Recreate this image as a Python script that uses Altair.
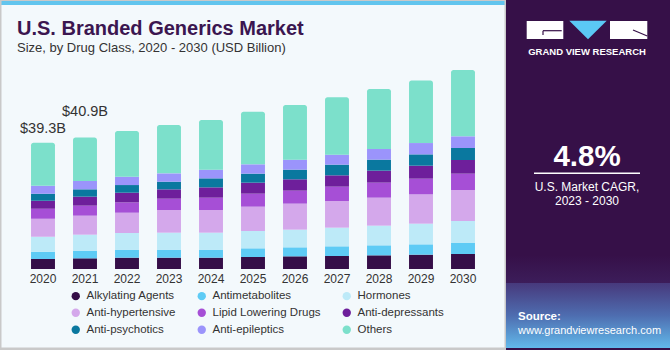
import altair as alt
import pandas as pd

# ---------------- data ----------------
years = [2020, 2021, 2022, 2023, 2024, 2025, 2026, 2027, 2028, 2029, 2030]
categories = ["Alkylating Agents", "Antimetabolites", "Hormones", "Anti-hypertensive",
              "Lipid Lowering Drugs", "Anti-depressants", "Anti-psychotics",
              "Anti-epileptics", "Others"]
colors = ["#350e48", "#5ecbf5", "#bdeaf8", "#d4a8eb", "#a64fd6", "#6e1f9b",
          "#0a789f", "#9b94fb", "#7ce0cb"]

alkylating = [3.11, 3.32, 3.52, 3.52, 3.52, 3.73, 3.94, 4.04, 4.25, 4.46, 4.67]
antimetabolites = [2.28, 2.38, 2.49, 2.49, 2.49, 2.70, 2.80, 3.01, 3.11, 3.21, 3.42]
hormones = [4.67, 4.98, 5.18, 5.29, 5.29, 5.39, 5.50, 5.81, 6.12, 6.43, 6.84]
antihypertensive = [5.60, 5.91, 6.32, 7.05, 7.05, 7.57, 8.09, 8.29, 8.71, 9.12, 9.64]
lipid = [3.11, 3.11, 3.21, 3.52, 3.83, 4.04, 4.04, 4.46, 4.67, 4.87, 5.08]
antidepressants = [2.49, 2.80, 3.01, 2.90, 3.21, 3.42, 3.52, 3.52, 3.73, 4.04, 4.25]
antipsychotics = [2.18, 2.28, 2.38, 2.38, 2.80, 2.80, 3.01, 3.32, 3.42, 3.52, 3.73]
antiepileptics = [2.49, 2.59, 2.59, 2.59, 2.70, 2.90, 3.11, 3.11, 3.32, 3.52, 3.63]
others = [13.37, 13.53, 14.20, 15.03, 15.45, 16.38, 17.00, 17.83, 18.66, 19.49, 20.63]

series = [alkylating, antimetabolites, hormones, antihypertensive, lipid,
          antidepressants, antipsychotics, antiepileptics, others]

label_years = [2020, 2021]
label_texts = ["$39.3B", "$40.9B"]

# ---------------- tables ----------------
rows = []
for i, (cat, vals) in enumerate(zip(categories, series)):
    for y, v in zip(years, vals):
        rows.append({"year": y, "category": cat, "value": v, "idx": i})
df = pd.DataFrame(rows)

totals = df.groupby("year")["value"].sum()
lab_df = pd.DataFrame({"year": label_years, "text": label_texts,
                       "total": [totals[y] for y in label_years]})

OX, OY = 22, 60
W, H = 462, 209
FONT = "Liberation Sans"

xenc = alt.X("year:O", title=None,
             scale=alt.Scale(paddingInner=0.43, paddingOuter=0.215),
             axis=alt.Axis(labelAngle=0, ticks=False, domain=False, grid=False,
                           labelPadding=4, labelFontSize=12, labelColor="#333333",
                           labelFont=FONT))
yscale = alt.Scale(domain=[0, 65])
cenc = alt.Color("category:N", scale=alt.Scale(domain=categories, range=colors),
                 legend=alt.Legend(title=None, orient="none", legendX=48, legendY=230,
                                   columns=3, direction="horizontal",
                                   symbolType="circle", symbolSize=70,
                                   symbolStrokeWidth=0, labelFontSize=11.5,
                                   labelFont=FONT, labelColor="#333333",
                                   columnPadding=20, rowPadding=4, labelOffset=5,
                                   labelLimit=250))

base = alt.Chart(df).transform_stack(
    stack="value", groupby=["year"], as_=["y0", "y1"],
    sort=[alt.SortField("idx", order="ascending")])

bars = base.transform_filter("datum.idx < 8").mark_bar().encode(
    x=xenc, y=alt.Y("y0:Q", scale=yscale, axis=None), y2="y1:Q", color=cenc)
bars_top = base.transform_filter("datum.idx == 8").mark_bar(
    cornerRadiusTopLeft=2.5, cornerRadiusTopRight=2.5).encode(
    x=xenc, y=alt.Y("y0:Q", scale=yscale, axis=None), y2="y1:Q", color=cenc)

lab1 = alt.Chart(lab_df).transform_filter("datum.year == 2020").mark_text(
    fontSize=14.5, font=FONT, color="#333333", baseline="alphabetic", dy=-10).encode(
    x=xenc, y=alt.Y("total:Q", scale=yscale, axis=None), text="text:N")
lab2 = alt.Chart(lab_df).transform_filter("datum.year == 2021").mark_text(
    fontSize=14.5, font=FONT, color="#333333", baseline="alphabetic", dy=-21).encode(
    x=xenc, y=alt.Y("total:Q", scale=yscale, axis=None), text="text:N")

one = pd.DataFrame({"a": [0]})


def rect(x1, x2, y1, y2, **kw):
    return alt.Chart(one).mark_rect(**kw).encode(
        x=alt.value(x1 - OX), x2=alt.value(x2 - OX),
        y=alt.value(y1 - OY), y2=alt.value(y2 - OY))


def rule(x1, y1, x2, y2, **kw):
    return alt.Chart(one).mark_rule(**kw).encode(
        x=alt.value(x1 - OX), x2=alt.value(x2 - OX),
        y=alt.value(y1 - OY), y2=alt.value(y2 - OY))


def text(s, x, y, **kw):
    return alt.Chart(one).mark_text(baseline="alphabetic", **kw).encode(
        x=alt.value(x - OX), y=alt.value(y - OY), text=alt.value(s))


deco = [
    rect(0, 506, 0, 1, color="#c9c9c9"),
    rect(0, 505, 1, 5, color="#62c5ee"),
    rect(0, 1.5, 1, 350, color="#c9c9c9"),
    rect(0, 506, 347.5, 350, color="#c9c9c9"),
    rect(504.5, 506, 0, 350, color="#c9c9c9"),
    rect(506, 670, 0, 350, color="#361048"),
    rect(506, 670, 255, 283, fill=alt.Gradient(
        gradient="linear", x1=0, x2=0, y1=0, y2=1,
        stops=[alt.GradientStop(color="#361048", offset=0),
               alt.GradientStop(color="#3c1d5a", offset=1)])),
    rect(506, 670, 283, 348, fill=alt.Gradient(
        gradient="linear", x1=0, x2=0, y1=0, y2=1,
        stops=[alt.GradientStop(color="#47397c", offset=0),
               alt.GradientStop(color="#4e6db0", offset=0.5),
               alt.GradientStop(color="#62b9ea", offset=1)])),
    # logo
    rect(526.7, 563.3, 21, 39, color="white"),
    rule(543, 30.7, 561.7, 30.7, color="#361048", strokeWidth=1.2),
    rule(543, 30.7, 543, 35, color="#361048", strokeWidth=1.2),
    alt.Chart(one).mark_point(shape="M -1 -0.5 L 1 -0.5 L 0 0.5 Z", filled=True,
                              opacity=1, color="#5bc8f5", size=1400).encode(
        x=alt.value(588 - OX), y=alt.value(30 - OY)),
    rect(610, 647.3, 21, 39, color="white"),
    rule(633, 30, 647.3, 36, color="#361048", strokeWidth=1.2),
    text("GRAND VIEW RESEARCH", 587, 54.5, align="center", fontSize=9.5,
         fontWeight="bold", font=FONT, color="white"),
    # titles
    text("U.S. Branded Generics Market", 17, 35, align="left", fontSize=20,
         fontWeight="bold", font=FONT, color="#3b1650"),
    text("Size, by Drug Class, 2020 - 2030 (USD Billion)", 17, 52, align="left",
         fontSize=13, font=FONT, color="#333333"),
    # panel text
    text("4.8%", 587, 165.7, align="center", fontSize=29.5, fontWeight="bold",
         font=FONT, color="white"),
    rule(534, 173.3, 640, 173.3, color="white", strokeWidth=1.5),
    text("U.S. Market CAGR,", 587, 190.5, align="center", fontSize=12,
         font=FONT, color="white"),
    text("2023 - 2030", 587, 205.3, align="center", fontSize=12,
         font=FONT, color="white"),
    text("Source:", 518, 320, align="left", fontSize=11.5, fontWeight="bold",
         font=FONT, color="white"),
    text("www.grandviewresearch.com", 518, 333.5, align="left", fontSize=11,
         font=FONT, color="white"),
]

chart = alt.layer(*deco, bars, bars_top, lab1, lab2).properties(
    width=W, height=H,
    padding={"left": OX, "top": OY, "right": 670 - OX - W, "bottom": 350 - OY - H},
    autosize=alt.AutoSizeParams(type="none"),
).configure(background="#f3f9fc").configure_view(stroke=None)

chart.save("out.html", embed_options={"renderer": "svg", "actions": False})
